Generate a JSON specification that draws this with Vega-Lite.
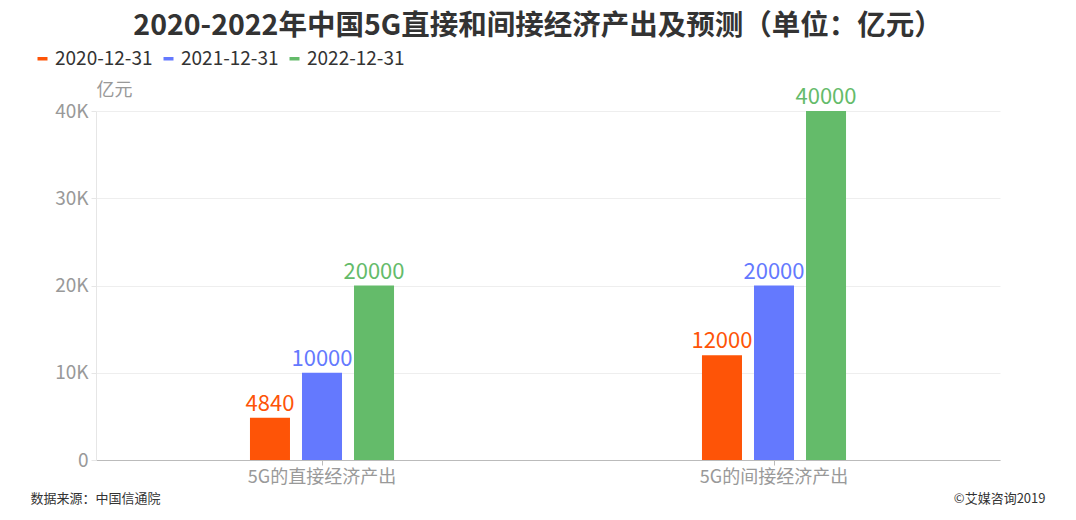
{
  "$schema": "https://vega.github.io/schema/vega-lite/v6.json",
  "autosize": {"type": "none"},
  "width": 904,
  "height": 349,
  "padding": {"left": 96, "top": 111, "right": 76, "bottom": 60},
  "background": "#ffffff",
  "config": {
    "font": "Noto Sans CJK SC",
    "view": {"stroke": null}
  },
  "title": {
    "text": "2020-2022年中国5G直接和间接经济产出及预测（单位：亿元）",
    "fontSize": 28.5,
    "fontWeight": "bold",
    "color": "#333333",
    "anchor": "middle",
    "frame": "group",
    "dx": -10,
    "dy": -9,
    "offset": 0
  },
  "data": {
    "values": [
      {"cat": "5G的直接经济产出", "year": "2020-12-31", "value": 4840},
      {"cat": "5G的直接经济产出", "year": "2021-12-31", "value": 10000},
      {"cat": "5G的直接经济产出", "year": "2022-12-31", "value": 20000},
      {"cat": "5G的间接经济产出", "year": "2020-12-31", "value": 12000},
      {"cat": "5G的间接经济产出", "year": "2021-12-31", "value": 20000},
      {"cat": "5G的间接经济产出", "year": "2022-12-31", "value": 40000}
    ]
  },
  "encoding": {
    "x": {
      "field": "cat",
      "type": "nominal",
      "sort": ["5G的直接经济产出", "5G的间接经济产出"],
      "scale": {"paddingInner": 0, "paddingOuter": 0},
      "axis": {
        "labelAngle": 0,
        "labelFontSize": 18,
        "labelColor": "#999999",
        "labelPadding": 3,
        "domainColor": "#bbbbbb",
        "tickColor": "#bbbbbb",
        "tickSize": 5,
        "title": "数据来源：中国信通院",
        "titleFontSize": 13,
        "titleFontWeight": "normal",
        "titleColor": "#333333",
        "titleAlign": "left",
        "titleAnchor": "start",
        "titleBaseline": "alphabetic",
        "titleX": -66,
        "titleY": 42
      }
    },
    "xOffset": {
      "field": "year",
      "type": "nominal",
      "scale": {
        "domain": ["p1", "p2", "2020-12-31", "2021-12-31", "2022-12-31", "p3", "p4"],
        "paddingInner": 0.2308,
        "paddingOuter": 0.96
      }
    },
    "y": {
      "field": "value",
      "type": "quantitative",
      "scale": {"domain": [0, 40000], "nice": false}
    },
    "color": {
      "field": "year",
      "type": "nominal",
      "scale": {
        "domain": ["2020-12-31", "2021-12-31", "2022-12-31"],
        "range": ["#FE5407", "#6479FE", "#64BB6A"]
      }
    }
  },
  "layer": [
    {
      "mark": {"type": "bar"},
      "encoding": {
        "y": {
          "field": "value",
          "type": "quantitative",
          "axis": {
            "values": [0, 10000, 20000, 30000, 40000],
            "labelExpr": "datum.value == 0 ? '0' : (datum.value / 1000) + 'K'",
            "labelFontSize": 19,
            "labelColor": "#999999",
            "labelPadding": 3,
            "gridColor": "#eeeeee",
            "domainColor": "#e6e6e6",
            "tickColor": "#e6e6e6",
            "tickSize": 5,
            "title": "亿元",
            "titleAngle": 0,
            "titleAlign": "left",
            "titleBaseline": "alphabetic",
            "titleFontSize": 18,
            "titleFontWeight": "normal",
            "titleColor": "#999999",
            "titleX": 0,
            "titleY": -16
          }
        },
        "color": {
          "field": "year",
          "type": "nominal",
          "legend": {
            "orient": "none",
            "direction": "horizontal",
            "legendX": -63,
            "legendY": -62,
            "title": null,
            "labelFontSize": 19,
            "labelColor": "#333333",
            "symbolType": "M-1,-0.35L1,-0.35L1,0.35L-1,0.35Z",
            "symbolSize": 100,
            "symbolStrokeWidth": 0,
            "columnPadding": 6,
            "labelOffset": 3
          }
        }
      }
    },
    {
      "mark": {"type": "text", "baseline": "bottom", "dy": -2, "fontSize": 22},
      "encoding": {
        "text": {"field": "value", "type": "quantitative", "format": "d"},
        "y": {
          "field": "value",
          "type": "quantitative",
          "axis": {
            "orient": "right",
            "domain": false,
            "labels": false,
            "ticks": false,
            "grid": false,
            "title": "©艾媒咨询2019",
            "titleAngle": 0,
            "titleAlign": "right",
            "titleBaseline": "alphabetic",
            "titleFontSize": 13,
            "titleFontWeight": "normal",
            "titleColor": "#333333",
            "titleX": 45,
            "titleY": 391
          }
        }
      }
    }
  ],
  "resolve": {"axis": {"y": "independent"}}
}
